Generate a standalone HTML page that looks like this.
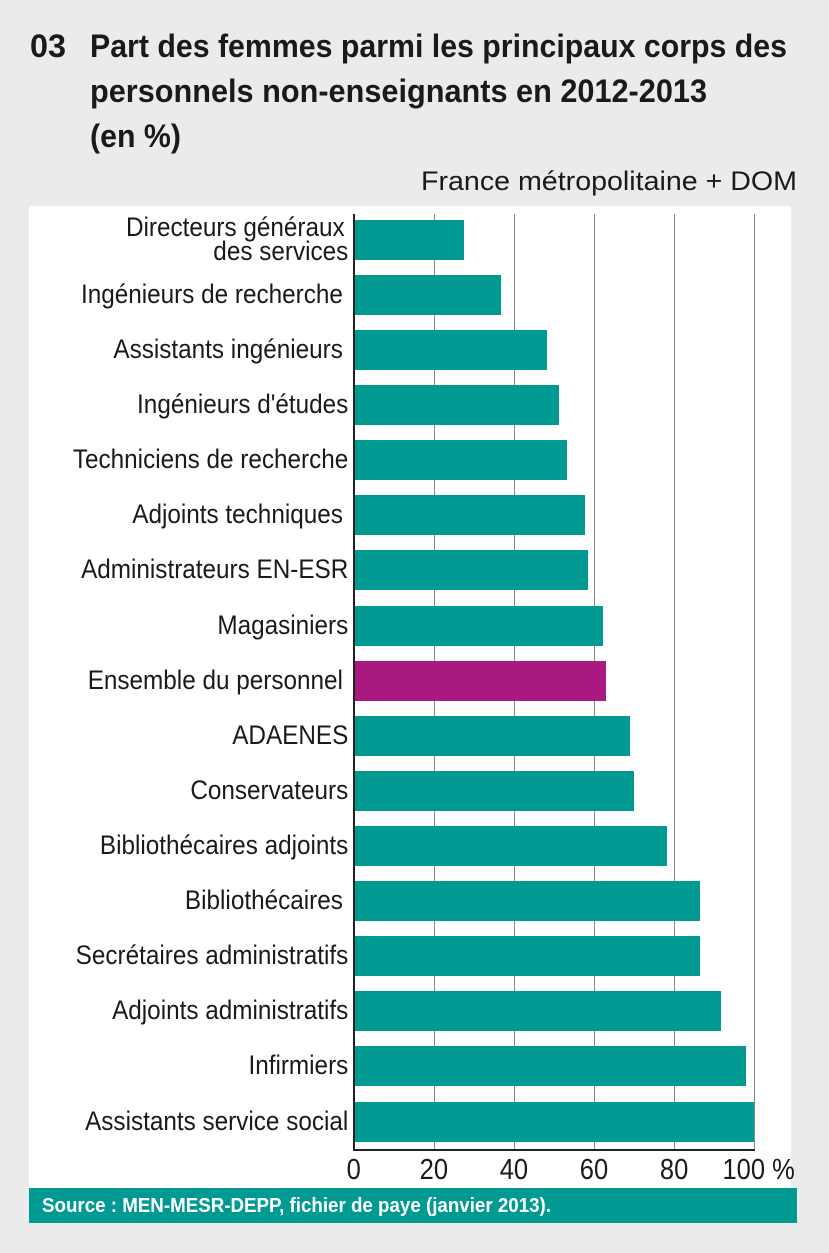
<!DOCTYPE html>
<html><head><meta charset="utf-8"><style>
html,body{margin:0;padding:0;background:#ebebeb;}
svg{display:block;}
text{font-family:"Liberation Sans",sans-serif;fill:#1a1a1a;}
</style></head><body>
<svg width="829" height="1253" viewBox="0 0 829 1253" xmlns="http://www.w3.org/2000/svg">
<rect width="829" height="1253" fill="#ebebeb"/>
<g font-weight="bold" font-size="32">
<text x="30" y="57" textLength="36" lengthAdjust="spacingAndGlyphs">03</text>
<text x="90" y="57" textLength="697" lengthAdjust="spacingAndGlyphs">Part des femmes parmi les principaux corps des</text>
<text x="90" y="102" textLength="617" lengthAdjust="spacingAndGlyphs">personnels non-enseignants en 2012-2013</text>
<text x="90" y="147" textLength="91" lengthAdjust="spacingAndGlyphs">(en %)</text>
</g>
<text x="421" y="190" font-size="27" textLength="376" lengthAdjust="spacingAndGlyphs">France métropolitaine + DOM</text>
<rect x="29" y="206" width="762" height="982" fill="#fff"/>
<g stroke="#888" stroke-width="1">
<line x1="434.5" y1="214" x2="434.5" y2="1150"/>
<line x1="514.5" y1="214" x2="514.5" y2="1150"/>
<line x1="594.5" y1="214" x2="594.5" y2="1150"/>
<line x1="674.5" y1="214" x2="674.5" y2="1150"/>
<line x1="754.5" y1="214" x2="754.5" y2="1150"/>
</g>
<g fill="#009a93">
<rect x="355" y="220" width="109" height="40"/>
<rect x="355" y="275" width="146" height="40"/>
<rect x="355" y="330" width="192" height="40"/>
<rect x="355" y="385" width="204" height="40"/>
<rect x="355" y="440" width="212" height="40"/>
<rect x="355" y="495" width="230" height="40"/>
<rect x="355" y="550" width="233" height="40"/>
<rect x="355" y="606" width="248" height="40"/>
<rect x="355" y="661" width="251" height="40" fill="#a91a80"/>
<rect x="355" y="716" width="275" height="40"/>
<rect x="355" y="771" width="279" height="40"/>
<rect x="355" y="826" width="312" height="40"/>
<rect x="355" y="881" width="345" height="40"/>
<rect x="355" y="936" width="345" height="40"/>
<rect x="355" y="991" width="366" height="40"/>
<rect x="355" y="1046" width="391" height="40"/>
<rect x="355" y="1102" width="399" height="40"/>
</g>
<line x1="354" y1="214" x2="354" y2="1151" stroke="#222" stroke-width="2"/>
<line x1="353" y1="1150" x2="755" y2="1150" stroke="#222" stroke-width="2"/>
<g transform="scale(0.9,1)" font-size="27" text-anchor="end">
<text x="383" y="236">Directeurs généraux</text>
<text x="387" y="260">des services</text>
<text x="381" y="303">Ingénieurs de recherche</text>
<text x="381" y="358">Assistants ingénieurs</text>
<text x="387" y="413">Ingénieurs d'études</text>
<text x="387" y="468">Techniciens de recherche</text>
<text x="381" y="523">Adjoints techniques</text>
<text x="387" y="578">Administrateurs EN-ESR</text>
<text x="387" y="634">Magasiniers</text>
<text x="381" y="689">Ensemble du personnel</text>
<text x="387" y="744">ADAENES</text>
<text x="387" y="799">Conservateurs</text>
<text x="387" y="854">Bibliothécaires adjoints</text>
<text x="381" y="909">Bibliothécaires</text>
<text x="387" y="964">Secrétaires administratifs</text>
<text x="387" y="1019">Adjoints administratifs</text>
<text x="387" y="1074">Infirmiers</text>
<text x="387" y="1130">Assistants service  social</text>
</g>
<g transform="scale(0.88,1)" font-size="29" text-anchor="middle">
<text x="402" y="1179">0</text>
<text x="493" y="1179">20</text>
<text x="584" y="1179">40</text>
<text x="675" y="1179">60</text>
<text x="766" y="1179">80</text>
<text x="821" y="1179" text-anchor="start">100 %</text>
</g>
<rect x="29" y="1188" width="768" height="35" fill="#009a93"/>
<text x="42" y="1212" font-size="20" font-weight="bold" style="fill:#fff" textLength="509" lengthAdjust="spacingAndGlyphs">Source : MEN-MESR-DEPP, fichier de paye (janvier 2013).</text>
</svg>
</body></html>
